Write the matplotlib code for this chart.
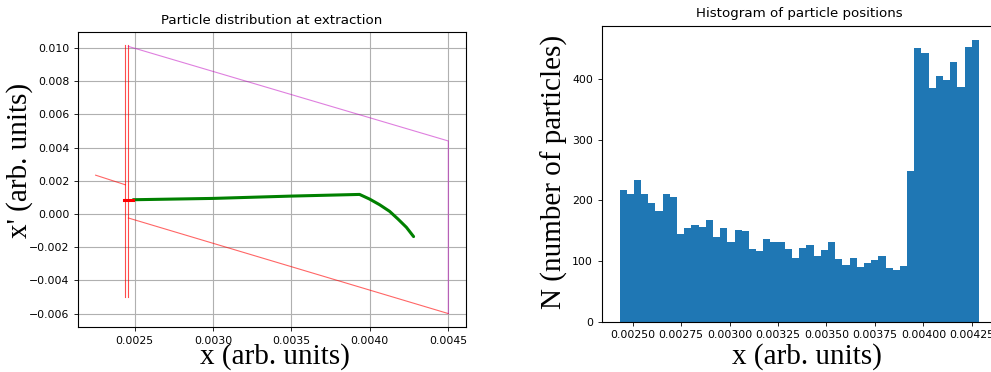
import numpy as np
import matplotlib
matplotlib.use("Agg")
import matplotlib.pyplot as plt
from matplotlib.ticker import MultipleLocator

# septum wires (two vertical red lines)
wire_x = [0.00244, 0.002459]
wire_y = [-0.005, 0.01016]

# septum boundary lines (red, before / after the septum)
red_up_x = [0.00225, 0.00244]
red_up_y = [0.00234, 0.00176]
red_low_x = [0.002459, 0.004503]
red_low_y = [-0.00024, -0.006]

# acceptance boundary (magenta)
mag_x = [0.002459, 0.004503, 0.004503]
mag_y = [0.0101, 0.0044, -0.006]

# particles lost on septum (red) and extracted (green)
lost_x = [0.002434, 0.00249]
lost_y = [0.00084, 0.00084]
extr_x = [0.00249, 0.0030, 0.0035, 0.003936, 0.0040, 0.004064, 0.004128,
          0.004181, 0.004235, 0.004281]
extr_y = [0.00086, 0.00094, 0.00108, 0.00118, 0.0009, 0.00056, 0.00016,
          -0.0003, -0.0008, -0.00136]

# histogram of particle positions (50 bins)
hist_lo, hist_hi, n_bins = 0.002433, 0.004286, 50
counts = [218, 210, 234, 210, 196, 182, 210, 205, 145, 155,
          159, 157, 168, 139, 155, 131, 151, 149, 120, 117,
          137, 131, 131, 120, 105, 122, 126, 109, 119, 131,
          104, 93, 105, 91, 97, 102, 108, 89, 86, 92,
          249, 452, 444, 386, 405, 398, 428, 387, 453, 465]

plt.rcParams['font.size'] = 7.8
plt.rcParams['xtick.major.size'] = 2.7
plt.rcParams['ytick.major.size'] = 2.7
plt.rcParams['xtick.major.width'] = 0.6
plt.rcParams['ytick.major.width'] = 0.6
label_font = dict(family='Liberation Serif', size=21)
title_size = 9.6

fig = plt.figure(figsize=(9.91, 3.72), dpi=100)

# left: phase space
ax1 = fig.add_axes([0.0787, 0.121, 0.3915, 0.793])
ax1.plot(red_up_x, red_up_y, color='r', alpha=0.6, lw=0.8)
ax1.plot(red_low_x, red_low_y, color='r', alpha=0.6, lw=0.8)
for wx in wire_x:
    ax1.plot([wx, wx], wire_y, color='r', alpha=0.7, lw=0.8)
ax1.plot(mag_x, mag_y, color='m', alpha=0.5, lw=0.8)
ax1.plot(extr_x, extr_y, color='green', lw=2.2, solid_capstyle='round',
         solid_joinstyle='round')
ax1.plot(lost_x, lost_y, color='red', lw=2.2)
ax1.xaxis.set_major_locator(MultipleLocator(0.0005))
ax1.yaxis.set_major_locator(MultipleLocator(0.002))
ax1.grid(True, color='#b0b0b0', lw=0.8)
ax1.set_title("Particle distribution at extraction", fontsize=title_size)
ax1.set_xlabel("x (arb. units)", **label_font)
ax1.set_ylabel("x' (arb. units)", **label_font)
ax1.xaxis.set_label_coords(0.508, -0.054)
ax1.yaxis.set_label_coords(-0.116, 0.566)

# right: histogram
edges = np.linspace(hist_lo, hist_hi, n_bins + 1)
centers = (edges[:-1] + edges[1:]) / 2
ax2 = fig.add_axes([0.607, 0.135, 0.399, 0.796])
ax2.hist(centers, bins=edges, weights=counts, color='#1f77b4')
ax2.xaxis.set_major_locator(MultipleLocator(0.00025))
ax2.yaxis.set_major_locator(MultipleLocator(100))
ax2.set_title("Histogram of particle positions", fontsize=title_size)
ax2.set_xlabel("x (arb. units)", **label_font)
ax2.set_ylabel("N (number of particles)", **label_font)
ax2.xaxis.set_label_coords(0.519, -0.072)
ax2.yaxis.set_label_coords(-0.085, 0.507)

fig.savefig("out.png", dpi=100)
